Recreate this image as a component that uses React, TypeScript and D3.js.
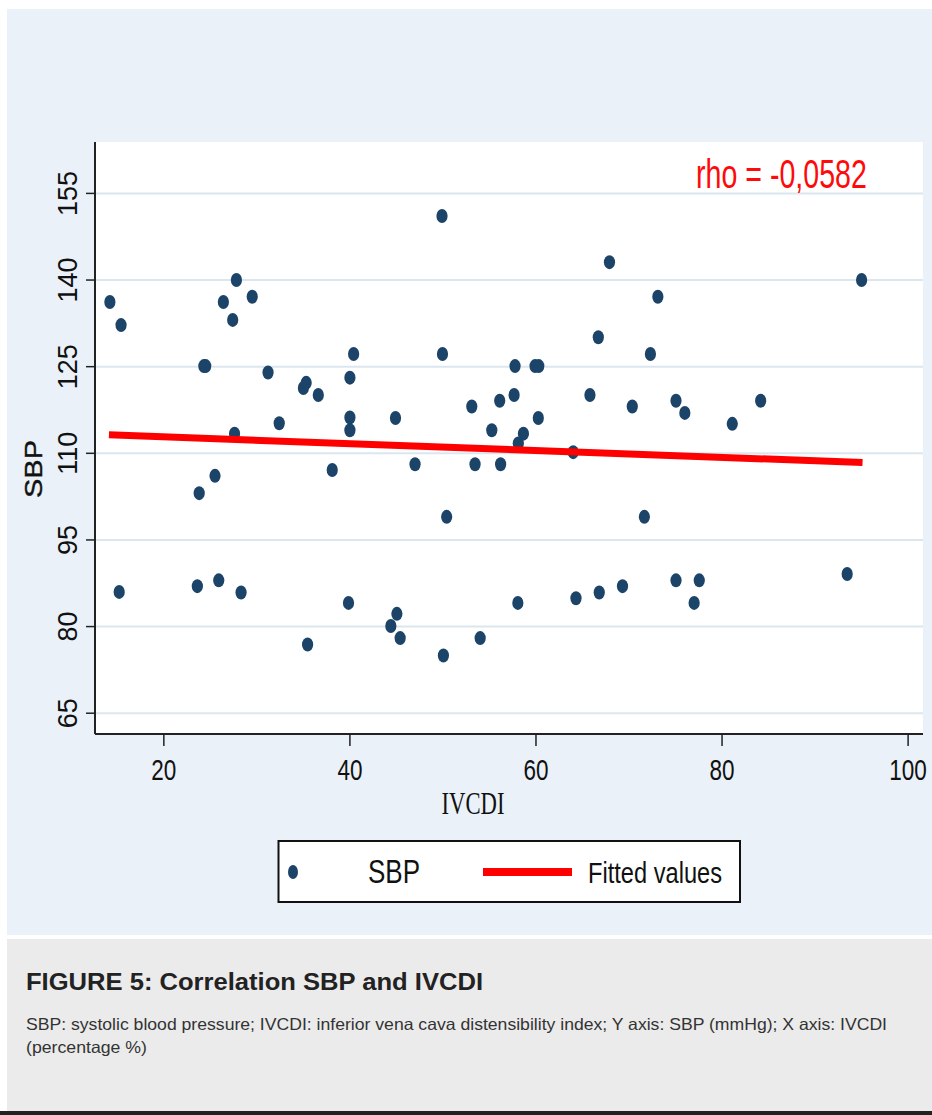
import React from "react";
import * as d3 from "d3";

const ivcdi = [
  14.2, 15.4, 15.2, 23.8, 23.6, 24.3, 24.5, 25.5, 25.9, 26.4, 27.4, 27.8, 29.5, 31.2, 27.6, 28.3,
  32.4, 35.0, 35.3, 36.6, 35.45, 38.1, 40.4, 40.0, 40.0, 40.0, 39.85, 44.9, 47.0, 44.4, 45.05, 45.4,
  49.9, 49.95, 50.4, 50.05, 53.1, 53.45, 54.0, 55.25, 56.1, 56.2, 57.65, 57.75, 58.65, 58.1, 58.05,
  59.9, 60.3, 60.25, 64.0, 64.3, 66.7, 65.8, 66.8, 67.9, 69.3, 70.35, 71.65, 72.3, 73.1, 75.05,
  76.0, 75.05, 77.55, 77.0, 81.1, 84.15, 93.45, 95.0,
];
const sbp = [
  136.2, 132.2, 86.0, 103.1, 87.0, 125.1, 125.1, 106.1, 88.0, 136.2, 133.1, 140.0, 137.1, 124.0, 113.4, 85.9,
  115.2, 121.3, 122.2, 120.1, 76.9, 107.1, 127.2, 123.1, 116.2, 114.0, 84.1, 116.1, 108.1, 80.1, 82.2, 78.0,
  151.1, 127.2, 99.0, 75.0, 118.1, 108.1, 78.0, 114.0, 119.1, 108.1, 120.1, 125.1, 113.4, 111.7, 84.1,
  125.1, 125.1, 116.1, 110.2, 84.9, 130.1, 120.1, 85.9, 143.1, 87.0, 118.1, 99.0, 127.2, 137.1, 119.1,
  117.0, 88.0, 88.0, 84.1, 115.1, 119.1, 89.1, 140.0,
];
const fitX = [14.1, 95.1];
const fitY = [113.2, 108.4];
const xTicks = [20, 40, 60, 80, 100];
const yTicks = [65, 80, 95, 110, 125, 140, 155];
const rhoLabel = "rho = -0,0582";
const xTitle = "IVCDI";
const yTitle = "SBP";
const legendLabels = ["SBP", "Fitted values"];
const captionTitle = "FIGURE 5: Correlation SBP and IVCDI";
const captionLines = [
  "SBP: systolic blood pressure; IVCDI: inferior vena cava distensibility index; Y axis: SBP (mmHg); X axis: IVCDI",
  "(percentage %)",
];
const captionWidths = [861, 121];

const L = 95, R = 923, T = 142, B = 734;
const SANS = "'Liberation Sans', Arial, Helvetica, sans-serif";

export default function App() {
  const x = d3.scaleLinear().domain([12.6, 101.6]).range([L, R]);
  const y = d3.scaleLinear().domain([61.4, 163.9]).range([B, T]);
  const fitLine = d3.line<number>().x((d) => x(d)).y((_, i) => y(fitY[i]));
  const dotColor = "#1c4368";

  return (
    <svg
      width={932}
      height={1115}
      style={{ position: "absolute", left: 0, top: 0, background: "#ffffff" }}
    >
      {/* outer panel */}
      <rect x={7} y={9} width={925} height={926} fill="#eaf1f8" />
      {/* plot area */}
      <rect x={L} y={T} width={R - L} height={B - T} fill="#ffffff" />
      {/* grid */}
      {yTicks.map((t) => (
        <line key={"g" + t} x1={L} x2={R} y1={y(t)} y2={y(t)} stroke="#dce6ef" strokeWidth={2} />
      ))}
      {/* axes */}
      <line x1={L} x2={L} y1={T} y2={B} stroke="#222" strokeWidth={2} />
      <line x1={L} x2={R} y1={B} y2={B} stroke="#222" strokeWidth={2} />
      {yTicks.map((t) => (
        <g key={"yt" + t}>
          <line x1={L - 9} x2={L} y1={y(t)} y2={y(t)} stroke="#222" strokeWidth={1.5} />
          <text
            transform={`translate(${77},${y(t)}) rotate(-90)`}
            textAnchor="middle"
            fontFamily={SANS}
            fontSize={27}
            fill="#111"
          >
            {t}
          </text>
        </g>
      ))}
      {xTicks.map((t) => (
        <g key={"xt" + t}>
          <line x1={x(t)} x2={x(t)} y1={B} y2={B + 12} stroke="#222" strokeWidth={1.5} />
          <text
            transform={`translate(${x(t)},${780}) scale(0.75,1)`}
            textAnchor="middle"
            fontFamily={SANS}
            fontSize={30}
            fill="#111"
          >
            {t}
          </text>
        </g>
      ))}
      <text
        x={473}
        y={814}
        textAnchor="middle"
        fontFamily="'Liberation Serif', 'Times New Roman', serif"
        fontSize={32}
        fill="#111"
        textLength={63}
        lengthAdjust="spacingAndGlyphs"
      >
        {xTitle}
      </text>
      <text
        transform={`translate(${42},${469}) rotate(-90)`}
        textAnchor="middle"
        fontFamily={SANS}
        fontSize={24}
        fill="#111"
        stroke="#111"
        strokeWidth={0.4}
        textLength={58}
        lengthAdjust="spacingAndGlyphs"
      >
        {yTitle}
      </text>
      {/* points */}
      {ivcdi.map((v, i) => (
        <ellipse key={"p" + i} cx={x(v)} cy={y(sbp[i])} rx={5.6} ry={7} fill={dotColor} />
      ))}
      {/* fitted line */}
      <path d={fitLine(fitX) || ""} stroke="#ff0000" strokeWidth={7} fill="none" />
      {/* rho */}
      <text
        transform={`translate(696,188) scale(0.715,1)`}
        fontFamily={SANS}
        fontSize={40}
        fill="#ff0a0a"
      >
        {rhoLabel}
      </text>
      {/* legend */}
      <rect x={278.5} y={841} width={461.5} height={61} fill="#ffffff" stroke="#111" strokeWidth={2} />
      <ellipse cx={293} cy={872} rx={5} ry={7} fill={dotColor} />
      <text
        transform={`translate(368,883) scale(0.765,1)`}
        fontFamily={SANS}
        fontSize={34}
        fill="#111"
      >
        {legendLabels[0]}
      </text>
      <line x1={483} x2={572} y1={872} y2={872} stroke="#ff0000" strokeWidth={8} />
      <text
        transform={`translate(588,883) scale(0.788,1)`}
        fontFamily={SANS}
        fontSize={30}
        fill="#111"
      >
        {legendLabels[1]}
      </text>
      {/* caption */}
      <rect x={7} y={939} width={925} height={172} fill="#ebebeb" />
      <rect x={0} y={1111} width={932} height={4} fill="#222" />
      <text
        x={26}
        y={990}
        fontFamily={SANS}
        fontWeight="bold"
        fontSize={24}
        fill="#222"
        textLength={457}
        lengthAdjust="spacingAndGlyphs"
      >
        {captionTitle}
      </text>
      {captionLines.map((ln, i) => (
        <text
          key={"c" + i}
          x={26}
          y={1030 + i * 23}
          fontFamily={SANS}
          fontSize={16.5}
          fill="#333"
          textLength={captionWidths[i]}
          lengthAdjust="spacingAndGlyphs"
        >
          {ln}
        </text>
      ))}
    </svg>
  );
}
